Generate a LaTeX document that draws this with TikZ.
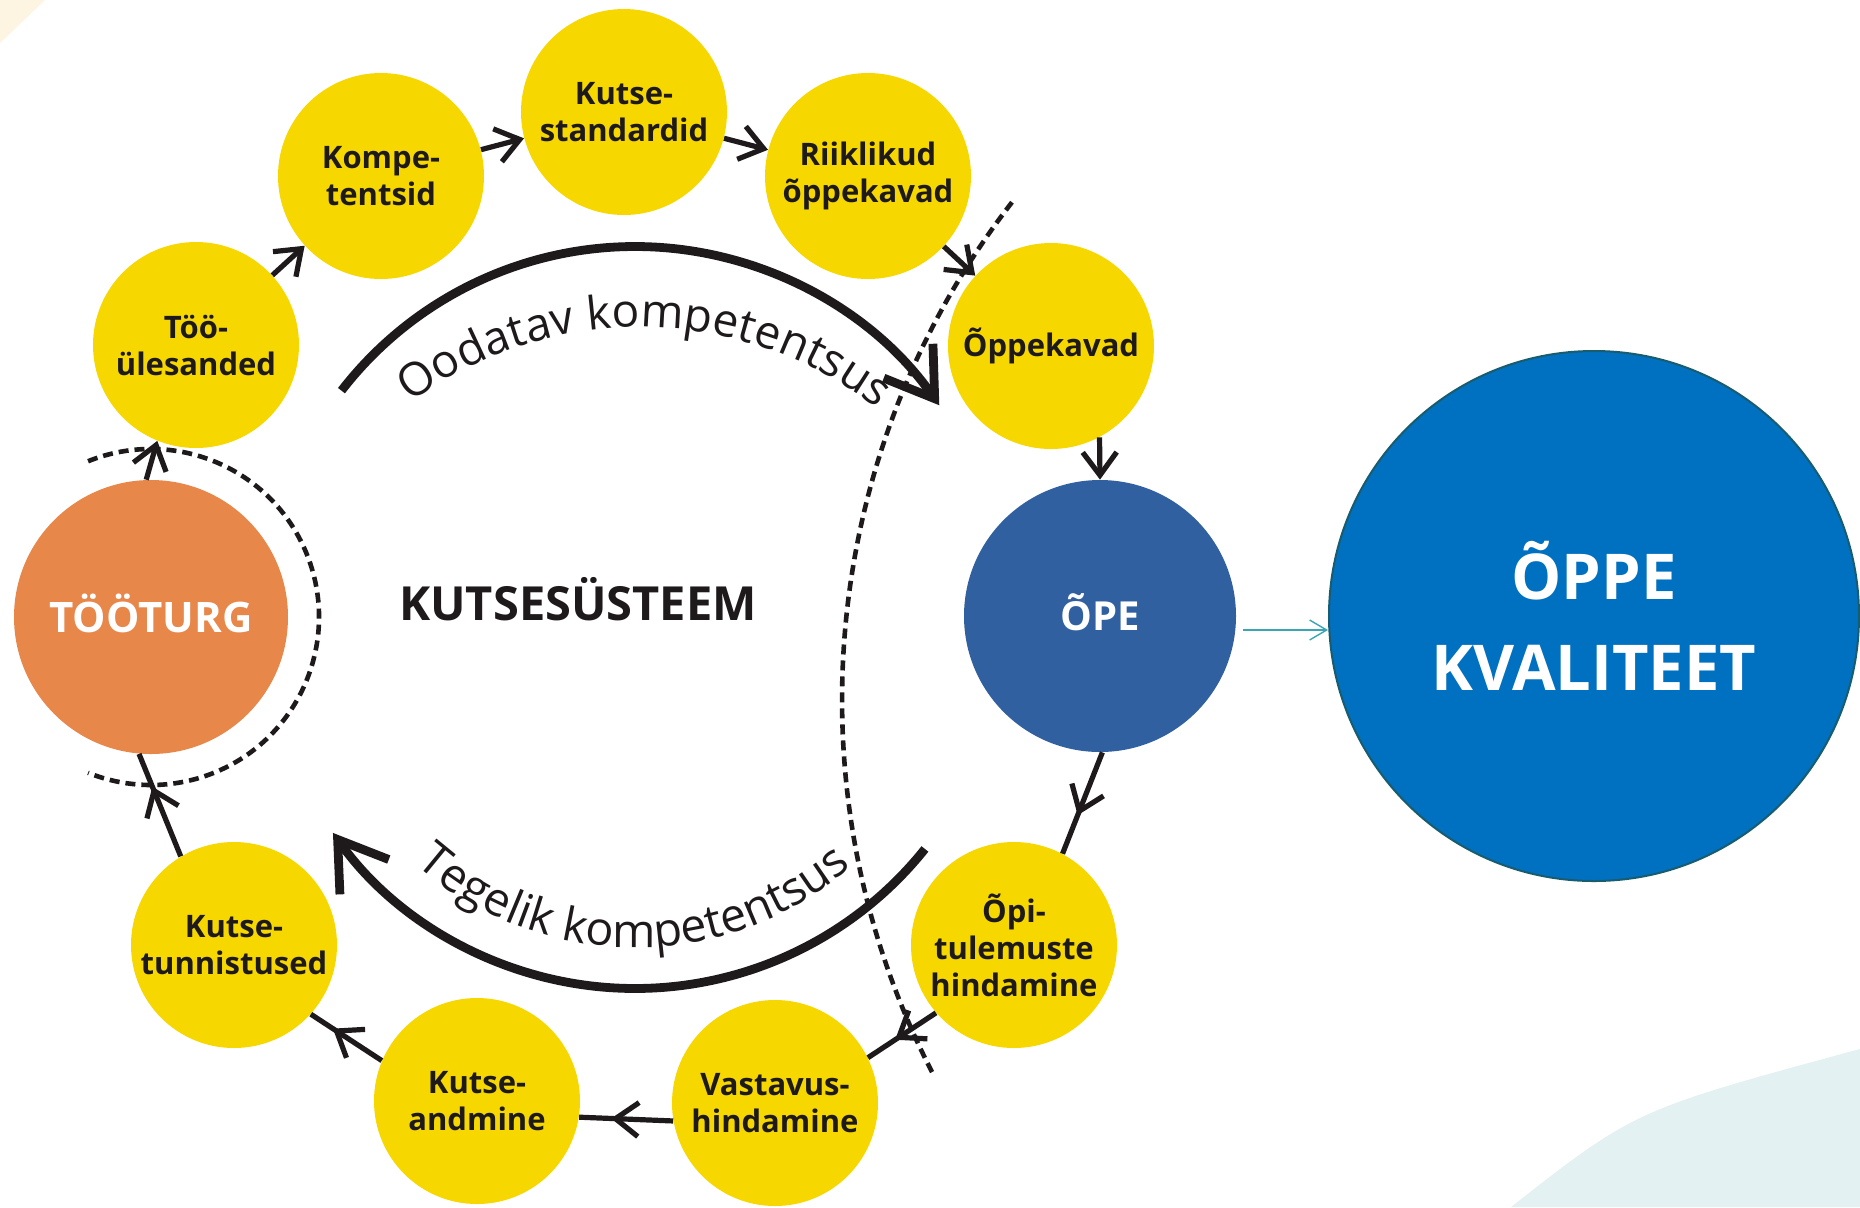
\documentclass[tikz,border=0pt]{standalone}
\usepackage{fontspec}
\setmainfont{Open Sans}
\newfontfamily\arcfont{Open Sans}
\usetikzlibrary{arrows.meta,decorations.text,decorations.markings,calc}
\definecolor{ylw}{RGB}{246,216,0}
\definecolor{org}{RGB}{232,135,74}
\definecolor{opeblue}{RGB}{48,96,160}
\definecolor{kvblue}{RGB}{0,112,192}
\definecolor{kvedge}{RGB}{24,92,112}
\definecolor{ink}{RGB}{30,26,27}
\definecolor{arrteal}{RGB}{60,165,180}
\definecolor{cream}{RGB}{253,245,226}
\definecolor{paleteal}{RGB}{227,241,242}
\begin{document}
\begin{tikzpicture}[x=0.5pt,y=0.5pt,
  yel/.style={circle, fill=ylw, minimum size=103pt, inner sep=0pt, align=center, text=ink, font=\bfseries\fontsize{15.5pt}{18.5pt}\selectfont},
  conn/.style={draw=ink, line width=2.6pt},
  tipend/.style={-{Straight Barb[length=11.5pt,width=17pt]}},
  midtip/.style={postaction={decorate}, decoration={markings, mark=at position #1 with {\arrow[ink, line width=2.6pt]{Straight Barb[length=11.5pt,width=17pt]}}}},
  bigarc/.style={draw=ink, line width=4.4pt, -{Straight Barb[length=23pt,width=30pt]}},
  dashline/.style={draw=ink, line width=2.3pt, dash pattern=on 5pt off 3pt},
  arctext/.style 2 args={decorate, decoration={text along path, text align=center, text={|\arcfont\fontsize{#1}{26pt}\selectfont\color{ink}|#2}}}
]
\useasboundingbox (0,0) rectangle (1860,-1207);
\fill[white] (0,0) rectangle (1860,-1207);
% background decorations
\fill[cream] (0,0) -- (45,0) -- (0,-43) -- cycle;
\fill[paleteal] (1511,-1207) .. controls (1635,-1110) .. (1860,-1049) -- (1860,-1207) -- cycle;

% centres of arcs
\coordinate (ac) at (635,-617.5);
\coordinate (tc) at (640,-712);
\coordinate (rc) at (1656,-700);

% nodes
\node[yel] (too) at (196,-345) {Töö-\\ülesanded};
\node[yel] (komp) at (381,-176) {Kompe-\\tentsid};
\node[yel] (kstd) at (624,-112) {Kutse-\\standardid};
\node[yel] (riik) at (868,-176) {Riiklikud\\õppekavad};
\node[yel] (oppek) at (1051,-346) {Õppekavad};
\node[yel] (opit) at (1014,-945) {Õpi-\\tulemuste\\hindamine};
\node[yel] (vast) at (775,-1103) {Vastavus-\\hindamine};
\node[yel] (kand) at (477,-1101) {Kutse-\\andmine};
\node[yel] (ktun) at (234,-945) {Kutse-\\tunnistused};
\node[circle, fill=org, minimum size=137pt, inner sep=0pt, text=white, text height=15pt, text depth=0pt, font=\bfseries\fontsize{21pt}{25pt}\selectfont] (toot) at (151,-617) {TÖÖTURG};
\node[circle, fill=opeblue, minimum size=136pt, inner sep=0pt, text=white, text height=14.5pt, text depth=0pt, font=\bfseries\fontsize{20pt}{24pt}\selectfont] (ope) at (1100,-616) {ÕPE};
\node[circle, fill=kvblue, draw=kvedge, line width=1pt, minimum size=265pt, inner sep=0pt, text=white, align=center, font=\bfseries\fontsize{31.6pt}{45.5pt}\selectfont] (kval) at (1594,-616) {ÕPPE\\KVALITEET};
\node[font=\bfseries\fontsize{23.5pt}{28pt}\selectfont, text=ink, anchor=base] (ks) at (578,-620) {KUTSESÜSTEEM};

% connectors
\draw[conn, tipend] (toot.92) -- (too.248);
\draw[conn, tipend] (too) -- (komp);
\draw[conn, tipend] (komp) -- (kstd);
\draw[conn, tipend] (kstd) -- (riik);
\draw[conn, tipend] (riik) -- (oppek);
\draw[conn, tipend] (oppek.298) -- (ope.90);
\draw[conn, midtip=0.62] (ope.271) -- (opit.62);
\draw[conn, midtip=0.6] (opit.221) -- (vast.26);
\draw[conn, midtip=0.66] (vast.190) -- (kand.351);
\draw[conn, midtip=0.69] (kand.157) -- (ktun.318);
\draw[conn, midtip=0.68] (ktun.121) -- (toot.265);

% big arcs
\draw[bigarc] ([shift={(142.3:371)}]ac) arc[start angle=142.3, end angle=34.9, radius=371];
\draw[bigarc] ([shift={(-38.6:371)}]ac) arc[start angle=-38.6, end angle=-144.5, radius=371];
\path[arctext={23pt}{Oodatav kompetentsus}] ([shift={(132:385)}]tc) arc[start angle=132, end angle=46.6, radius=385];
\path[arctext={23.3pt}{Tegelik kompetentsus}] ([shift={(222.7:330)}]ac) arc[start angle=222.7, end angle=316.7, radius=330];

% dashed arcs
\draw[dashline] ([shift={(112:168)}]toot.center) arc[start angle=112, end angle=-112, radius=168];
\draw[dashline] ([shift={(142.3:814)}]rc) arc[start angle=142.3, end angle=207.4, radius=814];

% arrow to quality
\draw[arrteal, line width=0.7pt, -{Straight Barb[length=8.5pt,width=10pt]}] ([xshift=3.5pt,yshift=-7pt]ope.east) -- ([yshift=-7pt]kval.west);
\end{tikzpicture}
\end{document}
